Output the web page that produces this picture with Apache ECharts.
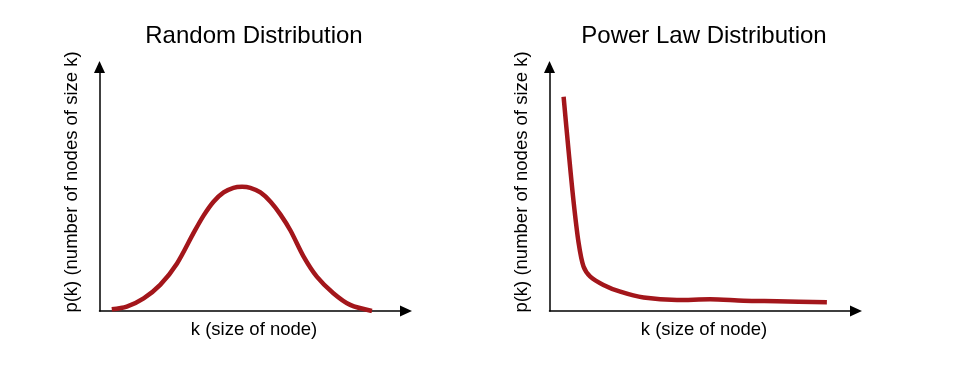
<!DOCTYPE html>
<html>
<head>
<meta charset="utf-8">
<script src="https://cdn.jsdelivr.net/npm/echarts@6/dist/echarts.min.js"></script>
<style>html,body{margin:0;padding:0;background:#fff;}#c{width:962px;height:385px;}</style>
</head>
<body>
<div id="c"></div>
<script>
const titles = ['Random Distribution', 'Power Law Distribution'];
const xLabel = 'k (size of node)';
const yLabel = 'p(k) (number of nodes of size k)';
const kRandom = [4.0, 8.9, 14.4, 19.8, 25.3, 30.7, 33.9, 37.2, 40.5, 43.7, 46.5, 49.2, 52.5, 55.8, 59.0, 62.3, 66.6, 70.9, 76.3, 81.8, 88.9];
const pRandom = [0.7, 1.8, 5.2, 10.7, 19.5, 32.0, 39.0, 44.8, 48.6, 50.5, 50.9, 50.5, 48.6, 44.8, 39.6, 33.0, 22.3, 14.1, 7.3, 2.5, 0.0];
const kPower = [4.6, 6.2, 7.8, 9.5, 11.1, 13.3, 17.6, 23.1, 30.7, 41.6, 52.4, 63.3, 74.2, 90.5];
const pPower = [87.8, 66.0, 45.5, 27.9, 18.2, 14.1, 10.7, 7.9, 5.5, 4.5, 4.8, 4.2, 4.0, 3.6];

const chart = echarts.init(document.getElementById('c'));
const font = '"Liberation Sans", Arial, sans-serif';
const axisCommon = {
  type: 'value', min: 0, max: 100,
  splitLine: {show: false}, axisTick: {show: false}, axisLabel: {show: false},
  axisLine: {show: true, onZero: false, symbol: ['none', 'triangle'], symbolSize: [11, 12], symbolOffset: [0, 0],
    lineStyle: {color: '#000', width: 1.5}}
};
const lineStyle = {color: '#a3161b', width: 4.5};
const panels = [
  {cx: 254, yl: 71.5},
  {cx: 704, yl: 521.5}
];
const graphics = [];
panels.forEach((p, i) => {
  graphics.push({type: 'text', x: p.cx, y: 36, style: {text: titles[i], font: '24px ' + font, fill: '#000', align: 'center', verticalAlign: 'middle'}});
  graphics.push({type: 'text', x: p.cx, y: 330, style: {text: xLabel, font: '18.5px ' + font, fill: '#000', align: 'center', verticalAlign: 'middle'}});
  graphics.push({type: 'text', x: p.yl, y: 182, rotation: Math.PI / 2, style: {text: yLabel, font: '18.5px ' + font, fill: '#000', align: 'center', verticalAlign: 'middle'}});
});
chart.setOption({
  animation: false,
  grid: [
    {left: 99.5, top: 67, width: 306.5, height: 244},
    {left: 549.5, top: 67, width: 306.5, height: 244}
  ],
  xAxis: [Object.assign({gridIndex: 0}, axisCommon), Object.assign({gridIndex: 1}, axisCommon)],
  yAxis: [Object.assign({gridIndex: 0}, axisCommon), Object.assign({gridIndex: 1}, axisCommon)],
  series: [
    {type: 'line', xAxisIndex: 0, yAxisIndex: 0, data: kRandom.map((k, i) => [k, pRandom[i]]), smooth: 0.3, showSymbol: false, lineStyle: lineStyle},
    {type: 'line', xAxisIndex: 1, yAxisIndex: 1, data: kPower.map((k, i) => [k, pPower[i]]), smooth: 0.3, showSymbol: false, lineStyle: lineStyle}
  ],
  graphic: graphics
});
</script>
</body>
</html>
